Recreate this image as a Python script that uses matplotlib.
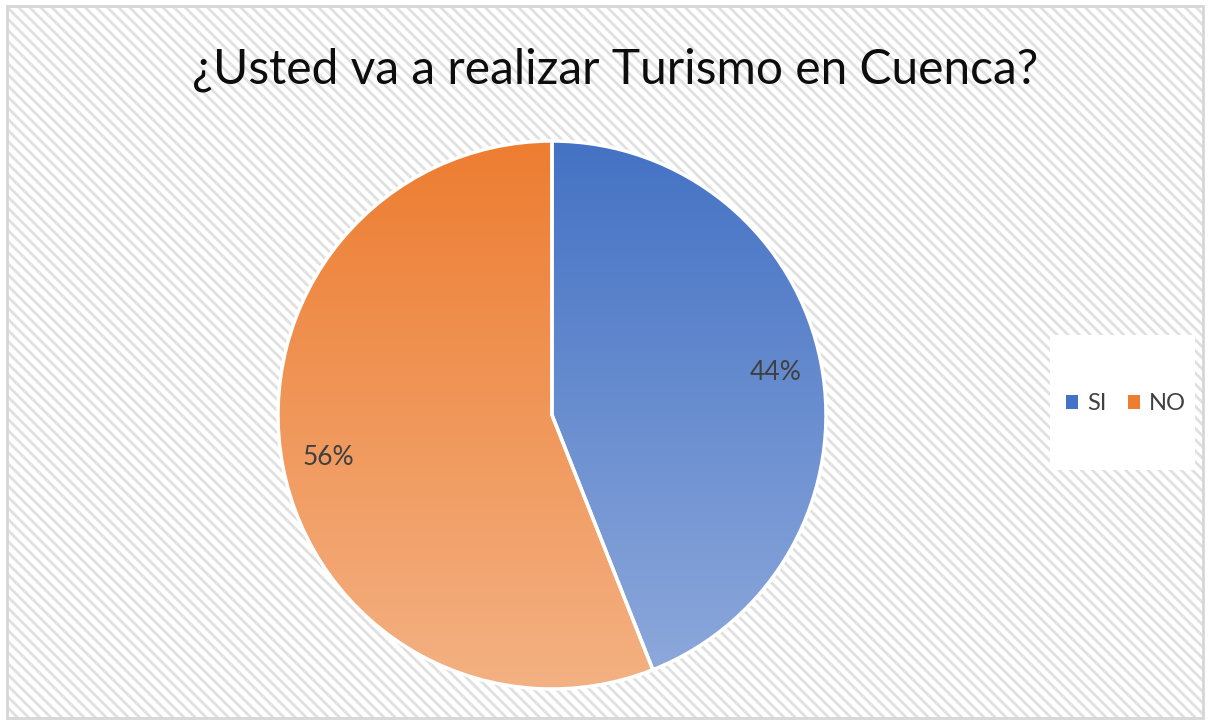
import numpy as np
import matplotlib.pyplot as plt
from matplotlib.colors import LinearSegmentedColormap
from matplotlib.patches import Rectangle

title = "¿Usted va a realizar Turismo en Cuenca?"
labels = ["SI", "NO"]
values = [44, 56]
top_colors = ["#4472C4", "#ED7D31"]
bottom_colors = ["#8FAADC", "#F4B183"]

plt.rcParams['font.family'] = ['Lato', 'DejaVu Sans']
plt.rcParams['hatch.linewidth'] = 2.0
plt.rcParams['hatch.color'] = '#e0e0e0'

W, H = 1209, 724
fig = plt.figure(figsize=(W / 100, H / 100), dpi=100)
fig.patch.set_facecolor('white')

# hatched chart area with light border
bg = Rectangle((7 / W, 6 / H), 1196 / W, 712 / H, transform=fig.transFigure,
               facecolor='white', edgecolor='#e0e0e0', hatch='\\\\\\', linewidth=0,
               zorder=-2)
fig.patches.append(bg)
border = Rectangle((7 / W, 6 / H), 1196 / W, 712 / H, transform=fig.transFigure,
                   facecolor='none', edgecolor='#d6d6d6', linewidth=2, zorder=-1)
fig.patches.append(border)

cx, cy, r = 552, 415, 274
lim = 1.03
ax = fig.add_axes([(cx - r * lim) / W, (H - cy - r * lim) / H, 2 * r * lim / W, 2 * r * lim / H])
ax.set_facecolor('none')

wedges, texts, autotexts = ax.pie(values, startangle=90, counterclock=False,
                                  autopct='%1.0f%%', pctdistance=0.83,
                                  wedgeprops=dict(edgecolor='white', linewidth=2.5),
                                  textprops=dict(color='#404040', fontsize=19))
ax.axis('off')

# vertical gradient fill clipped to each wedge
grad = np.linspace(0, 1, 256).reshape(-1, 1)
for w, c0, c1 in zip(wedges, top_colors, bottom_colors):
    cmap = LinearSegmentedColormap.from_list('g', [c0, c1])
    im = ax.imshow(grad, cmap=cmap, extent=[-1, 1, -1, 1], origin='upper',
                   aspect='auto', zorder=1)
    im.set_clip_path(w)
    w.set_facecolor('none')
    w.set_zorder(3)
for t in autotexts:
    t.set_zorder(4)
ax.set_xlim(-lim, lim)
ax.set_ylim(-lim, lim)
ax.set_aspect('equal')

fig.text(615 / W, 1 - 70 / H, title, ha='center', va='center', fontsize=34.5, color='#0d0d0d')

# legend box
leg_box = Rectangle((1050 / W, 1 - 470 / H), 145 / W, 135 / H, transform=fig.transFigure,
                    facecolor='white', edgecolor='none', zorder=-1)
fig.patches.append(leg_box)
handles = [Rectangle((0, 0), 1, 1, facecolor=c) for c in top_colors]
fig.legend(handles, labels, loc='center', bbox_to_anchor=(1126 / W, 1 - 404 / H),
           ncol=2, frameon=False, fontsize=17, handlelength=0.5, handleheight=0.5,
           handletextpad=0.4, columnspacing=0.9, labelcolor='#404040')

fig.savefig('out.png', dpi=100)
